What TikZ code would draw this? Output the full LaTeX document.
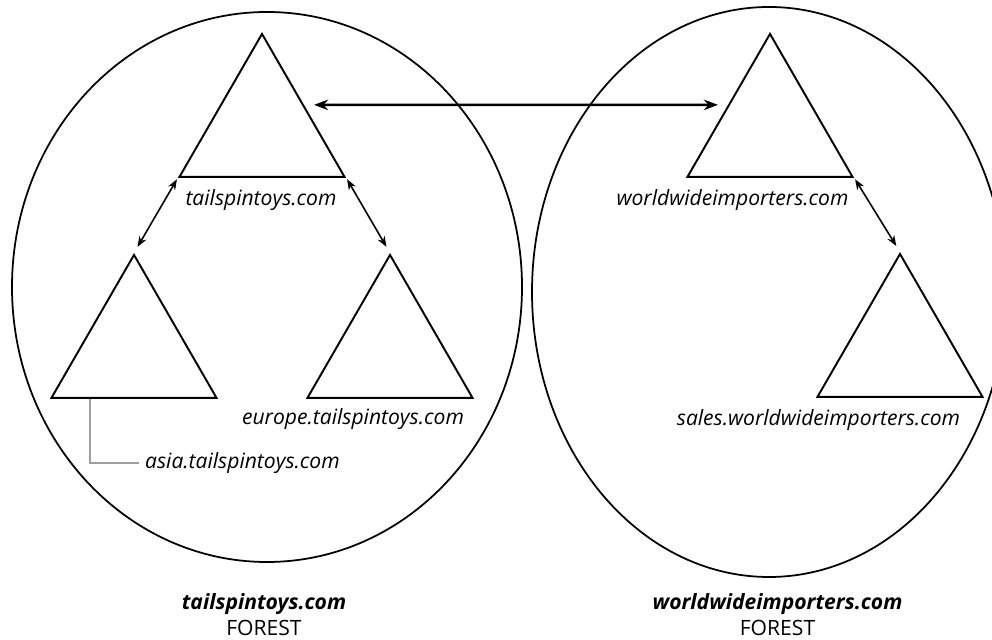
\documentclass[tikz,border=0pt]{standalone}
\usepackage{fontspec}
\setmainfont{Open Sans}
\usetikzlibrary{arrows.meta,calc,shapes.geometric}

\begin{document}
\begin{tikzpicture}[
  >={Stealth[length=6pt,width=4.5pt]},
  every node/.style={font=\fontsize{12}{14.8}\selectfont},
  tri/.style={draw,regular polygon,regular polygon sides=3,minimum size=3.81cm,inner sep=0pt,line width=1.1pt},
  dom/.style={font=\fontsize{12}{14.8}\selectfont\itshape},
  link/.style={<->,line width=0.9pt,shorten <=1pt,shorten >=4pt},
  trust/.style={{Stealth[length=8pt,width=6pt]}-{Stealth[length=8pt,width=6pt]},line width=1.5pt,shorten <=0.2cm,shorten >=0.2cm},
  leader/.style={gray!75,line width=1.4pt}
]
\useasboundingbox (0,0) rectangle (19.84,12.8);
% forests
\draw[line width=1pt] (5.34,7.06) ellipse [x radius=5.10, y radius=5.50];
\draw[line width=1pt] (15.38,6.96) ellipse [x radius=4.74, y radius=5.70];
% domain trees
\node[tri,anchor=corner 1] (root) at (5.24,12.16) {};
\node[tri,anchor=corner 1] (asia) at (2.68,7.74) {};
\node[tri,anchor=corner 1] (europe) at (7.80,7.74) {};
\node[tri,anchor=corner 1] (wwi) at (15.40,12.16) {};
\node[tri,anchor=corner 1] (sales) at (18.00,7.76) {};
% domain names
\node[dom] (rootlbl) at (5.22,8.80) {tailspintoys.com};
\node[dom] (europelbl) at (7.06,4.42) {europe.tailspintoys.com};
\node[dom,anchor=west] (asialbl) at (2.78,3.54) {asia.tailspintoys.com};
\node[dom] (wwilbl) at (14.65,8.80) {worldwideimporters.com};
\node[dom] (saleslbl) at (16.37,4.40) {sales.worldwideimporters.com};
% trusts
\draw[trust] (root.side 3) -- (wwi.side 1);
\draw[link] (root.corner 2) -- (asia.corner 1);
\draw[link] (root.corner 3) -- (europe.corner 1);
\draw[link] (wwi.corner 3) -- (sales.corner 1);
\coordinate (asiatap) at ($(asia.corner 2)+(0.8,0)$);
\draw[leader] (asiatap) |- (asialbl.west);
% forest names
\node[align=center] (leftforest) at (5.28,0.50) {\textbf{\textit{tailspintoys.com}}\\FOREST};
\node[align=center] (rightforest) at (15.55,0.50) {\textbf{\textit{worldwideimporters.com}}\\FOREST};
\end{tikzpicture}
\end{document}
